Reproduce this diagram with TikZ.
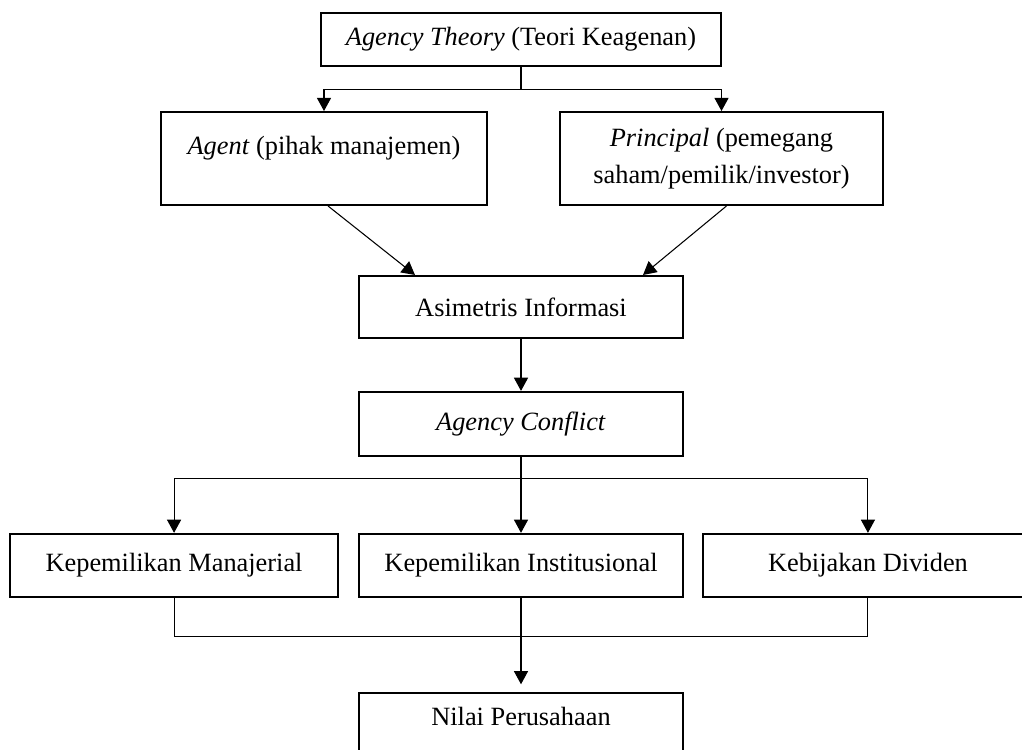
\documentclass[tikz,border=0pt]{standalone}
\usepackage{fontspec}
\setmainfont{Liberation Serif}
\usetikzlibrary{arrows.meta, positioning}

\begin{document}
\begin{tikzpicture}[
                node distance=1.5cm,
                block/.style={rectangle, draw, line width=1.1pt, inner sep=2pt, align=center, minimum width=6.48cm, minimum height=1.26cm, font=\fontsize{15pt}{20pt}\selectfont},
                link/.style={draw, line width=0.6pt},
                line/.style={draw, line width=0.6pt, -{Triangle[width=8pt,length=7.5pt]}}
            ]
                \useasboundingbox[fill=white] (0,0) rectangle (20.44,-14.98);

                % Place nodes
                \node [block, minimum width=8cm, minimum height=1.06cm] (F_theory) at (10.42,-0.79) {\textit{Agency Theory} (Teori Keagenan)};
                \node [block, minimum width=6.52cm, minimum height=1.86cm, text depth=15pt] (F_agent) at (6.48,-3.17) {\textit{Agent} (pihak manajemen)};
                \node [block, minimum width=6.46cm, minimum height=1.86cm, font=\fontsize{15pt}{21pt}\selectfont] (F_principal) at (14.43,-3.17) {\textit{Principal} (pemegang\\saham/pemilik/investor)};

                \node [block, minimum height=1.24cm, below=4.16cm of F_theory] (F_asym) {Asimetris Informasi};
                \node [block, minimum height=1.28cm, below=1.04cm of F_asym] (F_conflict) {\textit{Agency Conflict}};

                \node [block, below=1.52cm of F_conflict] (F_inst) {Kepemilikan Institusional};
                \node [block, minimum width=6.56cm, left=0.38cm of F_inst] (F_mgr) {Kepemilikan Manajerial};
                \node [block, minimum width=6.6cm, right=0.36cm of F_inst] (F_div) {Kebijakan Dividen};

                \node [block, text depth=9pt, below=1.88cm of F_inst] (F_value) {Nilai Perusahaan};

                % Draw edges
                \path [link] (F_theory.south) -- ++(0,-0.46) coordinate (F_split);
                \path [line] (F_split) -| (F_agent.north);
                \path [line] (F_split) -| (F_principal.north);

                \path [line] ([xshift=0.08cm]F_agent.south) -- ([xshift=-2.12cm]F_asym.north);
                \path [line] ([xshift=0.1cm]F_principal.south) -- ([xshift=2.44cm]F_asym.north);

                \path [line] (F_asym) -- (F_conflict);

                \path [link] (F_conflict.south) -- ++(0,-0.44) coordinate (F_fan);
                \path [line] (F_fan) -| (F_mgr.north);
                \path [line] (F_fan) -| (F_div.north);
                \path [line] (F_conflict) -- (F_inst);

                % join the three factors
                \path [link] (F_mgr.south) -- ++(0,-0.78) -| (F_div.south);
                \path [line] (F_inst.south) -- ([yshift=1.5mm]F_value.north);

            \end{tikzpicture}
\end{document}
